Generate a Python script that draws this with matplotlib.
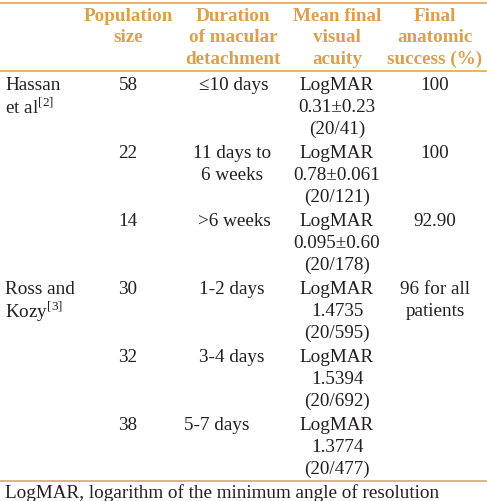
import matplotlib
matplotlib.use("Agg")
import matplotlib.pyplot as plt

# table content
headers = ["", "Population\nsize", "Duration\nof macular\ndetachment",
           "Mean final\nvisual\nacuity", "Final\nanatomic\nsuccess (%)"]
studies = ["Hassan\net al$^{\\mathrm{[2]}}$", "", "",
           "Ross and\nKozy$^{\\mathrm{[3]}}$", "", ""]
population = ["58", "22", "14", "30", "32", "38"]
duration = ["\u226410 days", "11 days to\n6 weeks", ">6 weeks",
            "1-2 days", "3-4 days", "5-7 days"]
acuity = ["LogMAR\n0.31\u00b10.23\n(20/41)",
          "LogMAR\n0.78\u00b10.061\n(20/121)",
          "LogMAR\n0.095\u00b10.60\n(20/178)",
          "LogMAR\n1.4735\n(20/595)",
          "LogMAR\n1.5394\n(20/692)",
          "LogMAR\n1.3774\n(20/477)"]
success = ["100", "100", "92.90", "96 for all\npatients", "", ""]
footnote = "LogMAR, logarithm of the minimum angle of resolution"

# layout (pixel coordinates)
W, H = 487, 501
header_x = [5, 128, 233, 337, 435]
row_y = [85, 153, 221, 289, 357, 425]
dur_x = [234, 232, 234, 232, 232, 217]
pop_x, acu_x, suc_x = 128, 337, 435
gold = "#DC9F4C"
ink = "#231F20"

plt.rcParams["font.family"] = ["Liberation Serif", "DejaVu Serif"]
plt.rcParams["mathtext.fontset"] = "custom"
plt.rcParams["mathtext.rm"] = "Liberation Serif"
fs = 13.8

fig = plt.figure(figsize=(W / 100, H / 100), dpi=100)
ax = fig.add_axes([0, 0, 1, 1])
ax.set_xlim(0, W)
ax.set_ylim(H, 0)
ax.axis("off")


def cell(x, y, txt, ha="center", dy=22.4, color=ink, weight="normal"):
    for i, line in enumerate(txt.split("\n")):
        if line:
            ax.text(x, y + i * dy, line, ha=ha, va="center",
                    fontsize=fs, color=color, fontweight=weight)


for x, h in zip(header_x, headers):
    cell(x, 16, h, dy=21.6, color=gold, weight="bold")

for i, y in enumerate(row_y):
    cell(5, y, studies[i], ha="left")
    cell(pop_x, y, population[i])
    cell(dur_x[i], y, duration[i])
    cell(acu_x, y, acuity[i])
    cell(suc_x, y, success[i])

for yl in [3, 71, 481]:
    ax.plot([0, W], [yl, yl], color=gold, lw=1.1, solid_capstyle="butt")

ax.text(5, 493, footnote, ha="left", va="center", fontsize=fs, color=ink)

fig.savefig("out.png", dpi=100)
